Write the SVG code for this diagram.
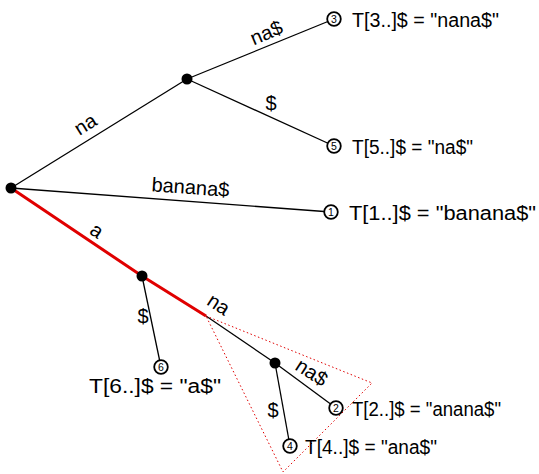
<svg xmlns="http://www.w3.org/2000/svg" width="539" height="474" viewBox="0 0 539 474">
<style>
.edge{stroke:#000;stroke-width:1.3;fill:none}
.red{stroke:#e00000;stroke-width:3;fill:none}
.dot{stroke:#e00000;stroke-width:1;stroke-dasharray:1.5 2.5;fill:none}
.inode{fill:#000}
.leaf{fill:#fff;stroke:#000;stroke-width:1.8}
.num{font-family:"Liberation Sans",Arial,sans-serif;font-size:10.5px;text-anchor:middle}
.lbl{font-family:"Liberation Sans",Arial,sans-serif;font-size:20px;fill:#000}
.elbl{font-family:"Liberation Sans",Arial,sans-serif;font-size:20px;fill:#000;text-anchor:middle}
</style>
<rect width="539" height="474" fill="#fff"/>
<g id="connectors">
<line class="edge" x1="11" y1="188" x2="187" y2="79"/>
<line class="edge" x1="187" y1="79" x2="334" y2="19"/>
<line class="edge" x1="187" y1="79" x2="334" y2="146"/>
<line class="edge" x1="11" y1="188" x2="331" y2="212"/>
<polyline class="red" points="11,188 142,276 206,316"/>
<line class="edge" x1="142" y1="276" x2="161" y2="367"/>
<line class="edge" x1="206" y1="316" x2="275" y2="363"/>
<line class="edge" x1="275" y1="363" x2="336" y2="408"/>
<line class="edge" x1="275" y1="363" x2="290" y2="446"/>
<polygon class="dot" points="206,316 372,383 283,472"/>
<text class="elbl" transform="translate(89,130) rotate(-32)">na</text>
<text class="elbl" transform="translate(269,39) rotate(-23)">na$</text>
<text class="elbl" x="271" y="110">$</text>
<text class="elbl" transform="translate(190,194) rotate(4)">banana$</text>
<text class="elbl" transform="translate(93,236) rotate(34)">a</text>
<text class="elbl" x="143" y="323">$</text>
<text class="elbl" transform="translate(215,310) rotate(33)">na</text>
<text class="elbl" transform="translate(308,378) rotate(33)">na$</text>
<text class="elbl" x="273" y="417">$</text>
</g>
<g id="root"><circle class="inode" cx="11" cy="188" r="5.5"/></g>
<g id="n_na"><circle class="inode" cx="187" cy="79" r="5.5"/></g>
<g id="n_a"><circle class="inode" cx="142" cy="276" r="5.5"/></g>
<g id="n_ana"><circle class="inode" cx="275" cy="363" r="5.5"/></g>
<g id="leaf3"><circle class="leaf" cx="334" cy="19" r="6.8"/><text class="num" x="334" y="22.7">3</text><text class="lbl" x="352" y="27" textLength="147" lengthAdjust="spacingAndGlyphs">T[3..]$ = "nana$"</text></g>
<g id="leaf5"><circle class="leaf" cx="334" cy="146" r="6.8"/><text class="num" x="334" y="149.7">5</text><text class="lbl" x="352" y="154" textLength="121" lengthAdjust="spacingAndGlyphs">T[5..]$ = "na$"</text></g>
<g id="leaf1"><circle class="leaf" cx="331" cy="212" r="6.8"/><text class="num" x="331" y="215.7">1</text><text class="lbl" x="349" y="220" textLength="187" lengthAdjust="spacingAndGlyphs">T[1..]$ = "banana$"</text></g>
<g id="leaf6"><circle class="leaf" cx="161" cy="367" r="6.8"/><text class="num" x="161" y="370.7">6</text><text class="lbl" x="89" y="393" textLength="132" lengthAdjust="spacingAndGlyphs">T[6..]$ = "a$"</text></g>
<g id="leaf2"><circle class="leaf" cx="336" cy="408" r="6.8"/><text class="num" x="336" y="411.7">2</text><text class="lbl" x="352" y="416" textLength="149" lengthAdjust="spacingAndGlyphs">T[2..]$ = "anana$"</text></g>
<g id="leaf4"><circle class="leaf" cx="290" cy="446" r="6.8"/><text class="num" x="290" y="449.7">4</text><text class="lbl" x="305" y="454" textLength="132" lengthAdjust="spacingAndGlyphs">T[4..]$ = "ana$"</text></g>
</svg>
